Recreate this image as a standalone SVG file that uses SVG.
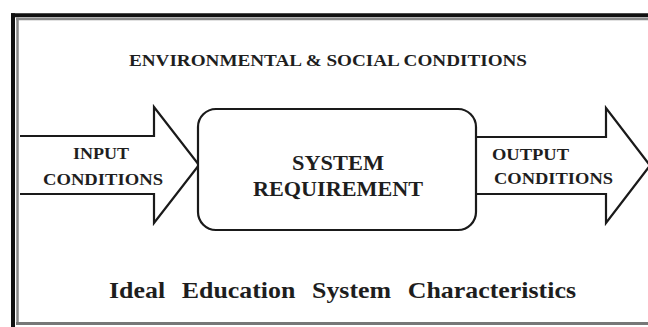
<svg xmlns="http://www.w3.org/2000/svg" width="648" height="327" viewBox="0 0 648 327">
<style>
.t{font-family:"Liberation Serif","Times New Roman",serif;font-weight:bold;fill:#1e1e1e;text-anchor:middle}
.shape{fill:#fff;stroke:#1a1a1a;stroke-width:2.2;stroke-linejoin:miter}
</style>
<rect width="648" height="327" fill="#fff"/>
<g id="frame">
<line x1="11" y1="15.3" x2="648" y2="15.3" stroke="#111" stroke-width="4"/>
<line x1="13" y1="13.3" x2="13" y2="327" stroke="#111" stroke-width="4"/>
<line x1="16" y1="19" x2="648" y2="19" stroke="#888" stroke-width="2.5"/>
<line x1="17.5" y1="17.5" x2="17.5" y2="324" stroke="#888" stroke-width="2.5"/>
<line x1="16" y1="323.5" x2="648" y2="323.5" stroke="#777" stroke-width="3"/>
</g>
<g id="environment">
<text class="t" x="328" y="66" font-size="16" textLength="398" lengthAdjust="spacingAndGlyphs">ENVIRONMENTAL &amp; SOCIAL CONDITIONS</text>
</g>
<g id="connectors">
<g id="input-arrow">
<path class="shape" d="M20,136 L154,136 L154,107 L199,165 L154,223 L154,194 L20,194"/>
<text class="t" x="101" y="159" font-size="16" textLength="56" lengthAdjust="spacingAndGlyphs">INPUT</text>
<text class="t" x="103" y="185" font-size="16" textLength="120" lengthAdjust="spacingAndGlyphs">CONDITIONS</text>
</g>
<g id="output-arrow">
<path class="shape" d="M476,137 L606,137 L606,108 L650,165.5 L606,223 L606,194 L476,194"/>
<text class="t" x="530.5" y="160" font-size="16" textLength="77" lengthAdjust="spacingAndGlyphs">OUTPUT</text>
<text class="t" x="553.5" y="184" font-size="16" textLength="119" lengthAdjust="spacingAndGlyphs">CONDITIONS</text>
</g>
</g>
<g id="system-requirement">
<rect class="shape" x="198" y="109" width="278" height="121" rx="18" ry="18" stroke-width="2.5"/>
<text class="t" x="338" y="170" font-size="20" textLength="92" lengthAdjust="spacingAndGlyphs">SYSTEM</text>
<text class="t" x="338" y="196" font-size="20" textLength="170" lengthAdjust="spacingAndGlyphs">REQUIREMENT</text>
</g>
<g id="title">
<text class="t" x="342.5" y="298" font-size="23" word-spacing="9" textLength="467" lengthAdjust="spacingAndGlyphs">Ideal Education System Characteristics</text>
</g>
</svg>
